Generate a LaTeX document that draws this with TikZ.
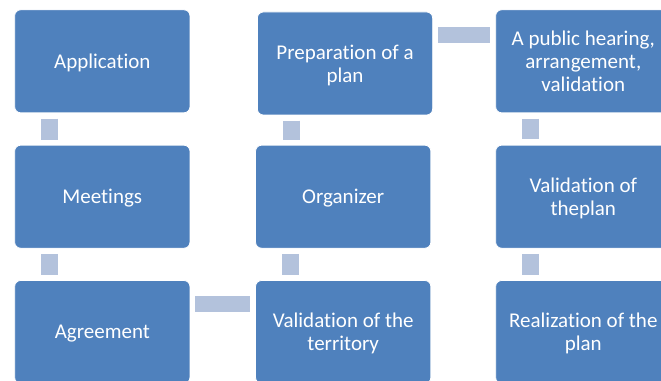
\documentclass[tikz,border=0pt]{standalone}
\usepackage{fontspec}
\setmainfont{Carlito}[Ligatures=NoCommon]
\definecolor{boxblue}{HTML}{4F81BD}
\definecolor{barblue}{HTML}{B3C2DC}
\tikzset{
  stepbox/.style={rectangle, rounded corners=4.5pt, fill=boxblue, draw=white, line width=0.6pt,
    minimum width=175.3*0.75pt, minimum height=103*0.75pt, inner sep=0pt, text depth=0pt,
    text=white, align=center, font=\fontsize{15.75}{17.5}\selectfont},
  bar/.style={draw=barblue, line width=12.75pt, line cap=butt},
}
\begin{document}
\begin{tikzpicture}[x=0.75pt, y=-0.75pt]
\useasboundingbox (0,0) rectangle (661,381);
\clip (0,0) rectangle (661,381);
\node[stepbox] (app)  at (102.3,61.3)  {Application};
\node[stepbox] (meet) at (102.3,196.7) {Meetings};
\node[stepbox] (agr)  at (102.3,332)   {Agreement};
\node[stepbox] (prep) at (345,63.5)    {Preparation of a\\plan};
\node[stepbox] (org)  at (343.2,196.7) {Organizer};
\node[stepbox] (valt) at (343.2,332)   {Validation of the\\territory};
\node[stepbox] (pub)  at (583.3,61.3)  {A public hearing,\\arrangement,\\validation};
\node[stepbox] (valp) at (583.3,196.7) {Validation of\\theplan};
\node[stepbox] (real) at (583.3,332)   {Realization of the\\plan};
\coordinate (orgtop) at ([xshift=27.5pt]org.north west);
% vertical bars
\draw[bar, shorten <=4pt, shorten >=3.8pt]
  ([xshift=26.25pt]app.south west) -- ([xshift=26.25pt]meet.north west);
\draw[bar, shorten <=4pt, shorten >=4pt]
  ([xshift=26.25pt]meet.south west) -- ([xshift=26.25pt]agr.north west);
\draw[bar, shorten <=4pt, shorten >=3.7pt]
  (prep.south -| orgtop) -- (orgtop);
\draw[bar, shorten <=4pt, shorten >=4pt]
  ([xshift=26.25pt]org.south west) -- ([xshift=26.25pt]valt.north west);
\draw[bar, shorten <=4pt, shorten >=4pt]
  ([xshift=26.25pt]pub.south west) -- ([xshift=26.25pt]valp.north west);
\draw[bar, shorten <=4pt, shorten >=4pt]
  ([xshift=26.25pt]valp.south west) -- ([xshift=26.25pt]real.north west);
% horizontal bars
\draw[bar, line width=12pt, shorten <=4pt, shorten >=4pt]
  ([yshift=-17.25pt]prep.north east) -- ([yshift=-17.25pt]prep.north east -| pub.west);
\draw[bar, line width=12.5pt, shorten <=3.8pt, shorten >=4pt]
  ([yshift=-18pt]agr.north east) -- ([yshift=-18pt]agr.north east -| valt.west);
\end{tikzpicture}
\end{document}
